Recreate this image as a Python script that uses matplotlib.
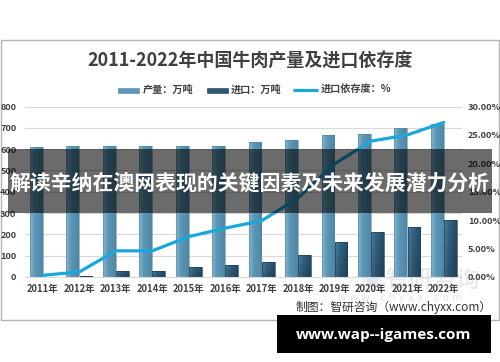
import matplotlib
matplotlib.use("Agg")
import matplotlib.pyplot as plt
import numpy as np
from matplotlib.patches import Rectangle
from matplotlib.colors import to_rgb

plt.rcParams['font.family'] = ['Noto Sans CJK SC', 'DejaVu Sans']

years = ["2011年", "2012年", "2013年", "2014年", "2015年", "2016年",
         "2017年", "2018年", "2019年", "2020年", "2021年", "2022年"]
production = [610.7, 614.7, 613.1, 615.7, 616.9, 616.9, 634.6, 644.1, 667.3, 672.5, 697.5, 718.3]
imports = [2.0, 6.1, 29.4, 29.8, 47.4, 58.0, 69.5, 103.9, 165.9, 211.8, 233.3, 269.1]
dependence = [0.3, 0.9, 4.6, 4.6, 7.1, 8.6, 9.9, 13.9, 19.9, 23.9, 25.0, 27.2]

title = "2011-2022年中国牛肉产量及进口依存度"
legend_labels = ["产量：万吨", "进口：万吨", "进口依存度：%"]
source = "制图：智研咨询（www.chyxx.com）"
banner = "解读辛纳在澳网表现的关键因素及未来发展潜力分析"
site = "www.wap--igames.com"

W, H = 500, 362
fig = plt.figure(figsize=(5, 3.62), dpi=100)
fig.patch.set_facecolor("white")

def fx(px):
    return px / W

def fy(py):
    return 1 - py / H

ax = fig.add_axes([fx(24.75), fy(277), fx(462) - fx(24.75), fy(106.5) - fy(277)])
ax2 = ax.twinx()
ax.set_zorder(1)
ax2.set_zorder(2)
ax.patch.set_visible(False)
ax2.patch.set_visible(False)

x = np.arange(len(years))
bw = 0.35
off = 0.18

b1 = ax.bar(x - off, production, bw, color="none", edgecolor="#4f86a4", linewidth=0.4, zorder=3)
b2 = ax.bar(x + off, imports, bw, color="none", edgecolor="#1f3f58", linewidth=0.5, zorder=3)

def gradient(ax, patch, cols_h, cols_v=None):
    x0, y0 = patch.get_x(), patch.get_y()
    w, h = patch.get_width(), patch.get_height()
    n = 32
    t = np.linspace(0, 1, n)
    ca, cb, cc = [np.array(to_rgb(c)) for c in cols_h]
    row = np.array([ca + (cb - ca) * (tt / 0.35) if tt < 0.35 else cb + (cc - cb) * ((tt - 0.35) / 0.65) for tt in t])
    img = np.repeat(row[None, :, :], n, axis=0)
    if cols_v is not None:
        shade = np.linspace(cols_v[0], cols_v[1], n)[:, None, None]
        img = np.clip(img * shade, 0, 1)
    im = ax.imshow(img, extent=[x0, x0 + w, y0, y0 + h], origin="upper",
                   aspect="auto", zorder=2.5, interpolation="bilinear")
    im.set_clip_path(patch)

for p in b1:
    gradient(ax, p, ["#86b7cf", "#5e98b7", "#4f86a4"])
for p in b2:
    gradient(ax, p, ["#4a7a9c", "#33617f", "#234b67"], cols_v=(1.05, 0.85))

ax.set_xlim(-0.5, len(years) - 0.5)
ax.set_ylim(0, 800)
ax.set_yticks(range(0, 801, 100))
ax.yaxis.grid(True, color="#d9d9d9", linewidth=0.8, zorder=0)
ax.set_axisbelow(True)
for s in ax.spines.values():
    s.set_visible(False)
for s in ax2.spines.values():
    s.set_visible(False)
ax.spines["bottom"].set_visible(True)
ax.spines["bottom"].set_color("#d9d9d9")

ax.set_xticks(x)
ax.set_xticklabels(years)
ax.tick_params(axis="x", length=0, pad=5, labelsize=6.8, labelcolor="#404040")
ax.tick_params(axis="y", length=0, pad=6, labelsize=6.6, labelcolor="#404040")
for lab in ax.get_xticklabels() + ax.get_yticklabels():
    lab.set_fontweight("bold")

line, = ax2.plot(x, dependence, color="#1ba6dc", linewidth=2.3, solid_joinstyle="round",
                 solid_capstyle="round", zorder=5)
ax2.set_ylim(0, 30)
ax2.set_yticks(range(0, 31, 5))
ax2.set_yticklabels([f"{v:.2f}%" for v in range(0, 31, 5)])
ax2.tick_params(axis="y", length=0, pad=4.3, labelsize=6.6, labelcolor="#404040")
for lab in ax2.get_yticklabels():
    lab.set_fontweight("bold")

# border of the chart image
fig.add_artist(Rectangle((fx(1), fy(320)), fx(498), fy(40) - fy(320), transform=fig.transFigure,
                         fill=False, edgecolor="#b4b4b4", linewidth=1.0, zorder=0.5))

fig.text(0.5, fy(61), title, ha="center", va="center", fontsize=13, fontweight="bold", color="#404040")

# legend (manual)
lp1 = Rectangle((fx(118), fy(92.5)), fx(21), fy(87.5) - fy(92.5), transform=fig.transFigure,
                facecolor="#5e98b7", edgecolor="#4f86a4", linewidth=0.4)
lp2 = Rectangle((fx(207), fy(92.5)), fx(21), fy(87.5) - fy(92.5), transform=fig.transFigure,
                facecolor="#2d5878", edgecolor="#1f3f58", linewidth=0.4)
fig.add_artist(lp1)
fig.add_artist(lp2)
fig.add_artist(plt.Line2D([fx(293), fx(318)], [fy(90), fy(90)], transform=fig.transFigure,
                          color="#1ba6dc", linewidth=2.3, solid_capstyle="butt"))
for px, txt in zip([143, 231, 321], legend_labels):
    fig.text(fx(px), fy(90), txt, ha="left", va="center", fontsize=7.3, fontweight="bold", color="#404040")

# watermark
fig.text(fx(362), fy(281), "▣", ha="left", va="center", fontsize=16, color="#c9d6e3", alpha=0.6, zorder=0.6,
         family=["DejaVu Sans"])
fig.text(fx(385), fy(281), "智研咨询", ha="left", va="center", fontsize=17, color="#d6d6d6", alpha=0.6, zorder=0.6)
fig.text(fx(400), fy(298), "w w w . c h y x x . c o m", ha="center", va="center", fontsize=7.5,
         color="#d8d8d8", alpha=0.7, zorder=0.6, family=["DejaVu Sans"])

fig.text(fx(492), fy(307.5), source, ha="right", va="center", fontsize=8.5, color="#303030", zorder=6)

# semi-transparent banner
fig.add_artist(Rectangle((fx(8), fy(212.5)), fx(484), fy(149) - fy(212.5), transform=fig.transFigure,
                         facecolor="black", alpha=0.58, edgecolor="none", zorder=10))
fig.text(fx(250), fy(183), banner, ha="center", va="center", fontsize=15, fontweight="bold",
         color="white", zorder=11)

# black site box
fig.add_artist(Rectangle((fx(277), fy(353)), fx(214), fy(315) - fy(353), transform=fig.transFigure,
                         facecolor="black", edgecolor="none", zorder=10))
fig.text(fx(384), fy(334.5), site, ha="center", va="center", fontsize=11, fontweight="bold",
         color="white", zorder=11, family=["Open Sans", "DejaVu Sans"])

fig.savefig("out.png", dpi=100)
